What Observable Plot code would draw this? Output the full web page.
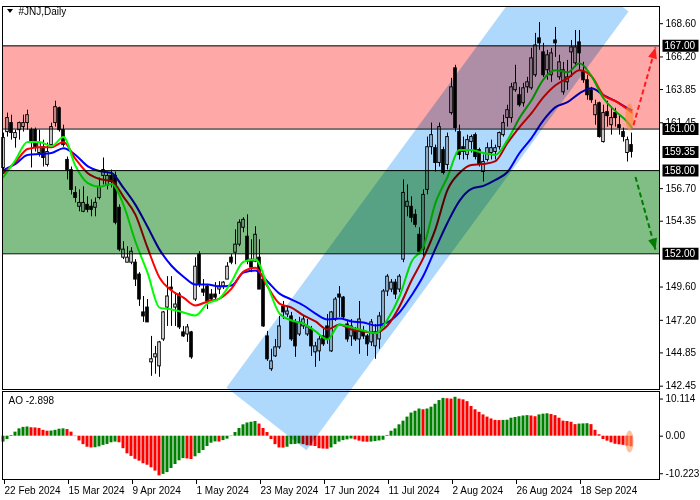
<!DOCTYPE html>
<html><head><meta charset="utf-8">
<script src="https://cdn.jsdelivr.net/npm/d3@7"></script>
<script src="https://cdn.jsdelivr.net/npm/@observablehq/plot@0.6"></script>
<style>
body{margin:0;background:#fff;}
#wrap{position:relative;width:700px;height:500px;overflow:hidden;background:#fff;}
#main,#ao{position:absolute;left:0;}
#main{top:0;} #ao{top:390px;}
#icon{position:absolute;left:7px;top:9px;width:0;height:0;border-left:3px solid transparent;border-right:3px solid transparent;border-top:4px solid #000;z-index:5;}
</style></head><body>
<div id="wrap"><div id="main"></div><div id="ao"></div><div id="icon"></div></div>
<script>
// ---- data ----
const symbolTitle = "#JNJ,Daily";
const open = [158.19,160.78,161.43,160.35,160.92,161.14,161.43,160.92,160.92,159.27,
159.69,158.41,159.84,161.43,162.50,160.92,158.77,158.04,156.39,155.39,
155.03,155.53,155.39,155.32,156.03,157.62,156.90,157.62,157.62,155.32,
151.72,151.36,151.36,151.36,150.50,147.77,148.12,144.17,144.53,143.88,
145.82,148.12,149.56,148.12,149.06,146.33,146.18,146.33,148.70,151.94,
149.42,149.64,149.06,149.06,149.42,149.64,150.14,151.72,152.08,152.66,
153.88,153.23,151.58,151.43,151.72,150.14,146.04,143.67,144.60,145.25,
148.20,147.62,147.48,147.05,146.18,146.76,146.18,146.54,144.89,144.96,
146.04,146.76,144.96,147.26,149.06,148.84,146.90,146.04,146.40,145.82,
146.33,146.04,145.61,145.32,145.82,146.76,149.28,149.42,149.92,149.42,
151.58,155.39,155.39,154.81,153.37,152.30,156.61,159.69,159.62,158.55,
159.48,158.41,162.15,165.38,160.78,159.69,159.13,160.06,160.56,159.48,
157.90,158.77,159.27,159.34,159.69,160.56,161.79,161.79,163.80,163.44,
162.86,164.01,163.94,164.88,167.54,166.53,165.24,164.88,167.39,164.73,
163.65,164.37,166.53,165.74,167.25,165.09,164.52,163.80,162.00,162.86,
160.06,162.22,161.28,162.15,161.28,160.78,159.27,159.84];
const high = [160.71,162.15,162.00,160.92,161.50,162.00,162.36,161.07,161.07,160.92,
160.20,159.99,161.43,163.01,162.58,161.28,158.98,158.26,156.83,156.61,
156.83,156.11,155.89,156.03,157.47,158.91,157.90,158.04,157.90,155.53,
152.87,152.51,152.44,151.58,150.64,148.92,148.70,146.04,145.32,145.68,
147.84,150.35,150.35,149.20,149.20,146.76,146.90,146.40,151.72,152.15,
150.14,149.78,149.42,149.92,149.99,149.99,151.36,151.94,153.73,154.45,
154.60,154.81,153.01,153.95,153.01,150.35,146.40,145.11,145.82,147.48,
148.56,148.12,147.77,147.26,147.41,147.48,147.26,146.76,145.61,146.04,
146.54,147.62,147.84,148.84,149.64,148.92,147.12,147.26,146.69,148.56,
146.76,146.18,147.26,146.90,147.77,149.42,150.50,150.14,150.14,150.50,
157.33,156.97,156.11,155.17,153.88,156.61,160.42,161.43,159.84,161.43,
159.69,160.71,164.66,165.60,161.28,160.42,160.56,160.56,160.71,159.62,
159.13,159.99,160.20,159.84,160.78,162.00,162.72,164.30,165.60,164.01,
164.30,164.73,166.82,167.90,168.69,167.18,166.68,166.82,168.33,166.32,
165.81,165.95,167.39,168.11,168.11,165.81,164.88,164.01,163.08,162.94,
162.72,163.01,162.50,162.50,162.00,161.07,160.42,160.71];
const low = [157.90,160.42,160.20,159.62,160.20,160.78,160.92,158.19,159.34,158.98,
158.26,158.26,159.69,161.14,160.78,159.69,157.33,156.25,155.67,155.03,
154.96,154.96,154.67,154.67,155.89,156.97,156.61,156.75,154.09,152.15,
151.58,151.36,151.21,149.64,148.20,147.05,147.05,143.16,143.31,143.09,
145.68,146.76,146.76,146.76,146.54,145.97,145.61,144.39,148.56,149.56,
148.92,147.98,148.48,148.56,149.06,149.42,150.14,151.21,151.21,152.51,
153.52,151.21,150.64,151.36,149.42,146.69,144.24,143.52,144.53,145.11,
147.26,147.41,145.68,144.53,146.04,146.54,146.04,144.60,143.81,144.24,
145.32,145.47,144.89,147.12,147.41,147.26,145.61,145.32,145.68,144.75,
145.82,144.60,145.32,144.39,145.11,146.69,148.92,149.20,148.70,149.20,
151.36,154.67,154.24,153.88,151.94,151.79,156.25,159.13,157.90,158.26,
157.69,158.04,162.00,160.78,158.77,158.77,158.77,159.27,158.77,158.26,
157.18,158.62,158.77,158.77,159.48,160.42,161.14,161.43,163.65,162.58,
162.58,163.58,163.80,164.73,166.68,164.73,164.52,164.37,166.17,164.52,
163.44,163.80,164.73,165.45,165.24,164.30,163.08,162.86,161.28,160.35,
159.99,161.14,160.56,161.14,160.56,160.06,158.62,158.91];
const close = [160.35,161.79,160.71,160.71,161.43,161.43,162.00,160.06,159.69,159.99,
158.91,159.34,161.14,162.58,160.92,159.84,158.04,156.61,156.03,155.67,
155.67,155.17,155.17,155.67,156.83,158.04,157.62,157.18,154.24,152.30,
152.30,151.72,152.15,150.14,148.70,147.48,147.05,144.39,144.75,145.61,
147.77,148.92,149.42,148.34,146.69,146.04,146.69,144.53,151.07,149.78,
149.20,148.56,148.70,148.84,149.64,149.92,151.07,151.36,152.66,154.24,
154.45,151.43,151.00,153.37,149.42,146.76,144.39,144.24,145.25,146.76,
147.77,147.84,145.82,145.32,147.05,147.26,146.69,145.32,145.32,145.82,
145.47,145.82,147.77,148.70,148.84,147.41,145.82,146.76,145.82,147.26,
146.04,145.47,147.05,146.33,147.48,149.28,150.35,149.92,149.06,150.35,
156.39,155.75,154.60,154.09,152.15,156.25,159.69,160.56,158.55,161.14,
157.83,160.42,164.01,161.07,159.13,159.34,160.20,160.42,158.98,158.41,
158.62,159.62,159.62,159.62,160.71,161.43,162.36,164.01,164.30,162.72,
163.94,164.37,166.10,167.03,167.18,164.88,166.32,166.46,167.18,165.81,
165.24,164.73,166.89,166.89,166.46,164.52,163.44,163.08,162.72,160.42,
162.15,161.93,161.79,161.79,161.07,160.42,160.20,159.35];

// moving averages (alligator lines), read every 3 bars
const maIdx = [0,3,6,9,12,15,18,21,24,27,30,33,36,39,42,45,48,51,54,57,60,63,66,69,72,75,78,81,84,87,90,93,96,99,102,105,108,111,114,117,120,123,126,129,132,135,138,141,144,147,150,153,156,157];
const lips = [157.54,158.77,160.06,160.06,159.77,160.42,158.33,157.11,156.83,157.04,155.53,152.87,150.64,148.12,147.98,147.77,147.55,148.41,148.77,149.99,151.43,151.58,149.71,147.69,147.19,146.97,146.40,145.82,146.90,146.69,146.47,146.26,147.26,148.92,151.43,152.51,155.67,157.54,159.48,159.48,159.27,159.13,160.20,161.79,163.08,164.59,165.24,165.09,165.74,164.81,163.22,162.29,161.50,161.14];
const teeth = [157.83,158.62,159.56,159.69,159.69,160.06,158.84,157.83,157.40,157.26,156.11,154.81,152.44,150.28,149.35,148.84,148.27,148.56,148.77,149.49,150.71,151.00,149.64,148.41,148.12,147.55,147.12,146.54,146.90,146.54,146.40,146.33,146.83,148.20,150.07,151.72,153.80,156.61,157.83,158.41,158.48,158.69,159.99,161.14,162.15,163.30,164.16,164.66,165.24,164.81,163.44,163.01,162.43,162.22];
const jaw = [158.04,158.48,159.13,159.20,159.27,159.62,159.13,158.33,157.97,157.83,156.75,155.53,153.95,152.30,151.14,150.35,149.78,149.78,149.64,149.71,150.64,150.79,150.00,149.13,148.70,148.27,147.69,147.26,147.33,147.12,147.05,146.83,147.05,147.77,148.99,150.43,152.37,154.24,155.82,156.68,156.90,157.33,157.90,159.27,160.35,161.64,162.58,162.94,163.58,163.94,163.44,163.01,162.50,162.36];

// Awesome Oscillator
const ao = [-1.6,-0.9,0.2,1.1,2.0,2.4,2.5,2.3,2.25,2.1,
1.6,1.35,1.4,1.6,1.9,2.0,1.8,1.1,-0.1,-1.3,
-2.3,-3.0,-3.2,-3.15,-2.9,-2.5,-2.25,-1.8,-1.6,-1.8,
-3.4,-4.8,-5.5,-6.3,-6.8,-7.5,-7.9,-8.6,-9.5,-10.8,
-10.4,-9.9,-8.8,-7.7,-6.7,-6.1,-6.2,-6.35,-5.6,-4.7,
-3.9,-2.8,-1.9,-1.55,-1.6,-1.2,-0.8,-0.1,1.0,2.1,
3.1,3.6,3.8,4.0,3.3,2.1,1.0,-0.9,-2.3,-3.2,
-3.25,-3.0,-2.3,-2.25,-2.1,-2.3,-2.6,-2.7,-2.8,-3.4,
-3.5,-3.55,-3.2,-2.3,-1.6,-1.2,-1.0,-0.75,-1.0,-1.35,
-1.6,-1.65,-1.6,-1.45,-1.3,-1.1,0.2,1.35,2.0,3.1,
4.1,5.2,6.3,6.8,7.4,7.2,7.4,7.9,8.7,9.7,
10.3,10.2,10.1,10.6,10.1,9.9,9.4,8.1,7.2,6.5,
5.8,5.2,4.7,4.3,4.25,4.3,4.35,4.9,5.1,5.3,
5.5,5.6,5.5,5.3,5.8,6.0,6.1,5.9,5.6,4.9,
4.1,4.0,3.8,3.15,3.3,3.35,3.4,3.15,1.6,0.4,
-0.9,-1.35,-1.8,-2.2,-2.35,-2.5,-2.7,-2.898];

// levels, zones and annotations
const levels = [167.00, 161.00, 158.00, 152.00];
const redZone = [161.00, 167.00];
const greenZone = [152.00, 158.00];
const channelIdx = [55.75, 75.75, 156.25, 136.25, 55.75];
const channelPrice = [142.36, 137.83, 169.48, 174.01, 142.36];
const arrowFromIdx = [157.5, 158];
const arrowFromPrice = [161.28, 157.54];
const arrowToIdx = [163, 163];
const arrowToPrice = [166.89, 152.30];
const arrowColors = ["#ff1c1c", "#007a00"];
const markIdx = [156.5];
const markPrice = [161.86];
const markAO = [-1.44];

// axes
const priceTicks = [142.45,144.85,147.20,149.60,154.35,156.70,161.45,163.85,166.20,168.60];
const aoTickVals = [10.114, 0, -10.223];
const aoTickLabels = ["10.114", "0.00", "-10.223"];
const dateIdx = [0,16,32,48,64,80,96,112,128,144];
const dateLabels = ["22 Feb 2024","15 Mar 2024","9 Apr 2024","1 May 2024","23 May 2024","17 Jun 2024","11 Jul 2024","2 Aug 2024","26 Aug 2024","18 Sep 2024"];

// ---- build ----
const FONT = '"Liberation Sans", Arial, sans-serif';
const bars = open.map((o, i) => ({i, o, h: high[i], l: low[i], c: close[i]}));
const ma = maIdx.map((i, k) => ({i, lips: lips[k], teeth: teeth[k], jaw: jaw[k]}));
const aoRows = ao.map((v, i) => ({i, v, col: (i === 0 || v > ao[i - 1]) ? "#008000" : "#ff0000"}));
const channel = channelIdx.map((i, k) => ({i, p: channelPrice[k]}));
const arrows = arrowFromIdx.map((x1, k) => ({x1, y1: arrowFromPrice[k], x2: arrowToIdx[k], y2: arrowToPrice[k], col: arrowColors[k]}));
const lastClose = close[close.length - 1];
const levelLabels = [...levels, lastClose].map(v => ({v}));
const xDomain = [-0.25, 164];
const yDomain = [142.21, 169.84];

const ellipseSym = (rx, ry) => ({draw(ctx) {
  const k = 0.5523;
  ctx.moveTo(rx, 0);
  ctx.bezierCurveTo(rx, ry * k, rx * k, ry, 0, ry);
  ctx.bezierCurveTo(-rx * k, ry, -rx, ry * k, -rx, 0);
  ctx.bezierCurveTo(-rx, -ry * k, -rx * k, -ry, 0, -ry);
  ctx.bezierCurveTo(rx * k, -ry, rx, -ry * k, rx, 0);
  ctx.closePath();
}});
const headSym = {draw(ctx) { ctx.moveTo(0, 0); ctx.lineTo(4.5, 11); ctx.lineTo(-4.5, 11); ctx.closePath(); }};
const boxSym = {draw(ctx) { ctx.rect(-18, -6, 36, 12); }};

const styleObj = {background: "white", fontFamily: FONT, fontSize: "10px", color: "black"};

function mainPlot(withHeads) {
  const marks = [
    Plot.ruleX(bars, {x: "i", y1: "l", y2: "h", stroke: "#000", strokeWidth: 1}),
    Plot.rect(bars, {x1: d => d.i - 0.32, x2: d => d.i + 0.32, y1: "o", y2: "c",
      fill: d => d.c >= d.o ? "#ffffff" : "#000000", stroke: "#000", strokeWidth: 1}),
    Plot.line(ma, {x: "i", y: "jaw", stroke: "#0000ff", strokeWidth: 2, curve: "monotone-x"}),
    Plot.line(ma, {x: "i", y: "teeth", stroke: "#ff0000", strokeWidth: 2, curve: "monotone-x"}),
    Plot.line(ma, {x: "i", y: "lips", stroke: "#00ff00", strokeWidth: 2, curve: "monotone-x"}),
    Plot.ruleY(levels, {stroke: "#000", strokeWidth: 1}),
    Plot.rect([redZone], {y1: d => d[0], y2: d => d[1], fill: "#ffa8a8", mixBlendMode: "multiply"}),
    Plot.rect([greenZone], {y1: d => d[0], y2: d => d[1], fill: "#80be86", mixBlendMode: "multiply"}),
    Plot.line(channel, {x: "i", y: "p", fill: "#aed8fc", stroke: "none", mixBlendMode: "multiply"}),
    // blank the margin above the frame so the channel stops at the frame's top edge
    Plot.rect([yDomain], {y1: d => d[1], y2: d => d[1] + 6, fill: "white"}),
    Plot.dot(markIdx.map((i, k) => ({i, p: markPrice[k]})), {x: "i", y: "p", symbol: ellipseSym(4, 13.5), fill: "#ff8a3d", fillOpacity: 0.65, stroke: "none"}),
    Plot.link(arrows, {x1: "x1", y1: "y1", x2: "x2", y2: "y2", stroke: "col", strokeWidth: 2, strokeDasharray: "5,3"}),
    Plot.frame({stroke: "#000"}),
    Plot.axisY(priceTicks, {anchor: "right", label: null, tickSize: 3, tickPadding: 3, tickFormat: d => d.toFixed(2), fontSize: 10}),
    Plot.dot(levelLabels, {y: "v", frameAnchor: "right", dx: 21, symbol: boxSym, fill: "#000", stroke: "none"}),
    Plot.text(levelLabels, {y: "v", text: d => d.v.toFixed(2), frameAnchor: "right", dx: 5, textAnchor: "start", fill: "#fff", fontSize: 10}),
    Plot.text([symbolTitle], {frameAnchor: "top-left", dx: 16, dy: 1, lineAnchor: "top", textAnchor: "start", fontSize: 10, fill: "#000"})
  ];
  if (withHeads) marks.push(Plot.dot(withHeads, {x: "x2", y: "y2", symbol: headSym, fill: "col", stroke: "none", rotate: "angle"}));
  return Plot.plot({
    width: 700, height: 390, marginLeft: 2, marginRight: 41, marginTop: 6, marginBottom: 1,
    x: {domain: xDomain, axis: null},
    y: {domain: yDomain, axis: null},
    color: {type: "identity"},
    style: styleObj,
    marks
  });
}

const base = mainPlot(null);
const sx = base.scale("x"), sy = base.scale("y");
const heads = arrows.map(a => {
  const dx = sx.apply(a.x2) - sx.apply(a.x1);
  const dy = sy.apply(a.y2) - sy.apply(a.y1);
  return {...a, angle: Math.atan2(dx, -dy) * 180 / Math.PI};
});
document.getElementById("main").appendChild(mainPlot(heads));

function aoPlot(chan) {
  const marks = [
    Plot.rect(aoRows, {x1: d => d.i - 0.375, x2: d => d.i + 0.375, y1: 0, y2: "v", fill: "col"}),
  ];
  if (chan) marks.push(Plot.line(chan, {x: "i", y: "a", fill: "#aed8fc", stroke: "none", mixBlendMode: "multiply"}));
  marks.push(
    Plot.dot(markIdx.map((i, k) => ({i, a: markAO[k]})), {x: "i", y: "a", symbol: ellipseSym(4, 11), fill: "#ff9a5c", fillOpacity: 0.6, stroke: "none"}),
    Plot.frame({stroke: "#000"}),
    Plot.axisY(aoTickVals, {anchor: "right", label: null, tickSize: 3, tickPadding: 3, tickFormat: d => aoTickLabels[aoTickVals.indexOf(d)], fontSize: 10}),
    Plot.axisX(dateIdx, {anchor: "bottom", label: null, tickSize: 5, tickPadding: 2, tickFormat: d => dateLabels[dateIdx.indexOf(d)], textAnchor: "start", dx: 1, fontSize: 10}),
    Plot.text(["AO " + ao[ao.length - 1].toFixed(3)], {frameAnchor: "top-left", dx: 6, dy: 5, lineAnchor: "top", textAnchor: "start", fontSize: 10, fill: "#000"})
  );
  return Plot.plot({
    width: 700, height: 110, marginLeft: 2, marginRight: 41, marginTop: 1, marginBottom: 21,
    x: {domain: xDomain, axis: null},
    y: {domain: [-11.79, 12.17], axis: null},
    color: {type: "identity"},
    style: styleObj,
    marks
  });
}
const aoBase = aoPlot(null);
const ay = aoBase.scale("y");
const aoTop = 390; // the oscillator panel sits directly under the price panel
const chanAO = channel.map(d => ({i: d.i, a: ay.invert(sy.apply(d.p) - aoTop)}));
document.getElementById("ao").appendChild(aoPlot(chanAO));
</script>
</body></html>
